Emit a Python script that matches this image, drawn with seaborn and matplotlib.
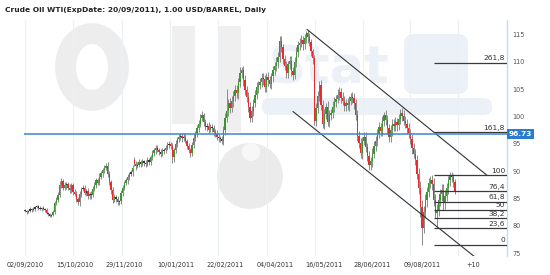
import matplotlib
matplotlib.use("Agg")
import matplotlib.pyplot as plt
import matplotlib.transforms as mtransforms
from matplotlib.patches import Ellipse, Rectangle, Circle, FancyBboxPatch
import numpy as np
import pandas as pd
import seaborn as sns

# ---------------- data ----------------
closes = [
    82.7, 82.5, 82.8, 83.1, 82.9, 83.1, 83.4, 83.6, 83.3, 83.1, 83.3, 83.1, 82.9, 82.4, 82.1, 81.9, 82.0, 82.5, 84.1, 84.8,
    85.6, 87.5, 88.2, 87.0, 87.4, 87.6, 87.0, 86.5, 87.4, 86.2, 85.8, 84.9, 84.3, 85.8, 86.7, 86.9, 86.1, 86.4, 85.4, 85.9,
    85.6, 86.8, 87.5, 88.3, 87.9, 89.0, 89.6, 90.2, 90.6, 91.0, 89.5, 88.0, 86.5, 84.7, 85.3, 85.0, 84.3, 84.5, 86.0, 87.0,
    87.8, 88.3, 88.9, 89.5, 89.8, 90.6, 91.4, 90.9, 91.2, 91.6, 91.3, 91.8, 91.5, 91.4, 92.0, 91.7, 92.5, 93.3, 93.8, 94.2,
    93.9, 93.5, 93.2, 93.7, 93.9, 94.3, 94.8, 95.0, 94.6, 92.5, 93.8, 95.0, 95.8, 96.2, 96.5, 96.0, 96.3, 95.5, 94.6, 93.8,
    93.3, 94.8, 96.0, 96.9, 97.8, 98.6, 99.8, 100.2, 99.0, 98.0, 98.3, 97.6, 98.1, 97.8, 97.2, 96.8, 96.3, 96.0, 95.8, 95.6,
    97.5, 99.8, 101.0, 102.4, 101.6, 102.8, 103.8, 104.8, 104.2, 106.2, 107.9, 108.5, 106.6, 104.8, 103.5, 101.8, 99.8, 101.0, 102.5, 104.0,
    105.3, 105.8, 106.2, 107.0, 106.8, 105.3, 107.2, 106.6, 106.0, 107.3, 108.4, 109.2, 109.9, 110.8, 113.8, 112.6, 110.5, 109.2, 108.0, 109.5,
    110.2, 108.3, 107.6, 110.0, 111.8, 113.0, 113.5, 113.9, 113.2, 114.3, 115.2, 114.5, 113.6, 112.0, 110.6, 99.2, 101.5, 103.8, 105.7, 102.0,
    98.7, 100.5, 101.7, 99.0, 100.2, 100.6, 101.8, 102.6, 103.2, 104.0, 104.4, 103.4, 102.8, 101.9, 102.4, 102.0, 102.9, 103.5, 103.3, 102.4,
    100.2, 96.5, 95.1, 93.3, 95.5, 96.2, 94.4, 92.8, 91.1, 91.8, 93.2, 94.6, 95.6, 96.8, 98.0, 97.4, 99.1, 100.2, 99.3, 97.8,
    96.2, 97.5, 98.7, 98.2, 98.9, 98.4, 99.6, 100.6, 100.1, 99.2, 98.7, 97.8, 96.9, 95.8, 94.2, 93.2, 92.0, 89.5, 87.0, 83.4,
    79.7, 82.5, 84.7, 86.2, 87.8, 88.3, 87.6, 84.7, 82.3, 83.0, 84.7, 85.8, 86.5, 84.1, 85.5, 86.9, 88.4, 89.2, 89.0, 88.0,
    86.2,
]
opens = [
    82.9, 82.7, 82.5, 82.8, 83.1, 82.9, 83.1, 83.4, 83.6, 83.3, 83.1, 83.3, 83.1, 82.9, 82.4, 82.1, 81.9, 82.0, 82.5, 84.1,
    84.8, 85.6, 87.5, 88.2, 87.0, 87.4, 87.6, 87.0, 86.5, 87.4, 86.2, 85.8, 84.9, 84.3, 85.8, 86.7, 86.9, 86.1, 86.4, 85.4,
    85.9, 85.6, 86.8, 87.5, 88.3, 87.9, 89.0, 89.6, 90.2, 90.6, 91.0, 89.5, 88.0, 86.5, 84.7, 85.3, 85.0, 84.3, 84.5, 86.0,
    87.0, 87.8, 88.3, 88.9, 89.5, 89.8, 92.0, 91.4, 90.9, 91.2, 91.6, 91.3, 91.8, 91.5, 91.4, 92.0, 91.7, 92.5, 93.3, 93.8,
    94.2, 93.9, 93.5, 93.2, 93.7, 93.9, 94.3, 94.8, 95.0, 94.6, 92.5, 93.8, 95.0, 95.8, 96.2, 96.5, 96.0, 96.3, 95.5, 94.6,
    93.8, 93.3, 94.8, 96.0, 96.9, 97.8, 98.6, 99.8, 100.2, 99.0, 98.0, 98.3, 97.6, 98.1, 97.8, 97.2, 96.8, 96.3, 96.0, 95.8,
    95.6, 97.5, 99.8, 101.0, 102.4, 101.6, 102.8, 103.8, 104.8, 104.2, 106.2, 107.9, 108.5, 106.6, 104.8, 103.5, 101.8, 99.8, 101.0, 102.5,
    104.0, 105.3, 105.8, 106.2, 107.0, 106.8, 105.3, 107.2, 106.6, 106.0, 107.3, 108.4, 109.2, 109.9, 110.8, 113.8, 112.6, 110.5, 109.2, 108.0,
    109.5, 110.2, 108.3, 107.6, 110.0, 111.8, 113.0, 113.5, 113.9, 113.2, 114.3, 115.2, 114.5, 113.6, 112.0, 110.6, 99.2, 101.5, 103.8, 105.7,
    102.0, 98.7, 100.5, 101.7, 99.0, 100.2, 100.6, 101.8, 102.6, 103.2, 104.0, 104.4, 103.4, 102.8, 101.9, 102.4, 102.0, 102.9, 103.5, 103.3,
    102.4, 100.2, 96.5, 95.1, 93.3, 95.5, 96.2, 94.4, 92.8, 91.1, 91.8, 93.2, 94.6, 95.6, 96.8, 98.0, 97.4, 99.1, 100.2, 99.3,
    97.8, 96.2, 97.5, 98.7, 98.2, 98.9, 98.4, 99.6, 100.6, 100.1, 99.2, 98.7, 97.8, 96.9, 95.8, 94.2, 93.2, 92.0, 89.5, 87.0,
    83.4, 79.7, 82.5, 84.7, 86.2, 87.8, 88.3, 87.6, 84.7, 82.3, 83.0, 84.7, 85.8, 86.5, 84.1, 85.5, 86.9, 88.4, 89.2, 89.0,
    88.0,
]
wick_up = [
    0.2, 0.3, 0.2, 0.3, 0.2, 0.3, 0.2, 0.3, 0.2, 0.3, 0.2, 0.3, 0.2, 0.3, 0.2, 0.3, 0.2, 0.4, 0.5, 0.4,
    0.6, 0.7, 0.5, 0.4, 0.6, 0.5, 0.4, 0.6, 0.5, 0.4, 0.5, 0.6, 0.3, 0.5, 0.4, 0.6, 0.5, 0.4, 0.5, 0.3,
    0.4, 0.5, 0.6, 0.4, 0.5, 0.6, 0.5, 0.4, 0.6, 0.5, 0.7, 0.5, 0.4, 0.6, 0.5, 0.4, 0.5, 0.3, 0.6, 0.5,
    0.4, 0.5, 0.6, 0.4, 0.5, 0.6, 0.5, 0.4, 0.5, 0.6, 0.4, 0.5, 0.3, 0.5, 0.6, 0.4, 0.5, 0.6, 0.4, 0.5,
    0.6, 0.4, 0.5, 0.6, 0.4, 0.5, 0.6, 0.5, 0.4, 0.6, 0.5, 0.7, 0.5, 0.6, 0.4, 0.5, 0.6, 0.5, 0.4, 0.6,
    0.5, 0.6, 0.7, 0.5, 0.6, 0.8, 0.6, 0.7, 0.5, 0.6, 0.5, 0.7, 0.6, 0.5, 0.6, 0.5, 0.7, 0.6, 0.5, 0.6,
    0.8, 0.9, 4.0, 0.8, 1.0, 0.9, 0.8, 1.0, 0.9, 0.8, 1.1, 0.5, 0.8, 0.9, 0.7, 1.0, 0.8, 0.9, 0.7, 0.8,
    0.9, 0.7, 0.8, 0.9, 1.0, 0.8, 0.7, 0.9, 0.8, 0.7, 0.9, 0.8, 0.9, 1.0, 0.8, 0.9, 0.7, 0.8, 0.9, 0.7,
    0.8, 0.9, 0.7, 0.8, 0.9, 0.7, 0.8, 0.9, 0.8, 0.7, 0.4, 0.6, 0.7, 0.5, 0.4, 0.6, 1.0, 0.9, 0.8, 0.9,
    1.0, 0.9, 0.8, 1.1, 0.9, 0.8, 1.0, 0.9, 0.8, 1.0, 0.9, 0.8, 1.0, 0.9, 0.8, 1.0, 0.9, 0.8, 1.0, 0.9,
    0.8, 1.0, 0.9, 1.0, 0.8, 0.9, 1.0, 0.8, 0.9, 0.8, 1.0, 0.9, 0.8, 0.9, 1.0, 0.8, 0.9, 0.6, 1.0, 0.9,
    0.8, 1.0, 0.9, 0.8, 1.0, 0.9, 0.8, 0.7, 0.9, 1.0, 0.8, 0.9, 1.0, 0.8, 0.9, 1.0, 0.8, 0.9, 1.0, 1.2,
    1.3, 1.2, 1.1, 1.0, 0.9, 0.8, 1.0, 1.1, 1.2, 1.0, 0.9, 1.0, 1.1, 1.2, 1.0, 0.9, 0.8, 0.6, 0.6, 0.5,
    0.6,
]
wick_dn = [
    0.2, 0.3, 0.2, 0.2, 0.3, 0.2, 0.3, 0.2, 0.3, 0.2, 0.3, 0.2, 0.3, 0.2, 0.3, 0.2, 0.3, 0.2, 0.4, 0.3,
    0.5, 0.4, 0.6, 0.5, 0.4, 0.6, 0.5, 0.4, 0.5, 0.6, 0.4, 0.5, 0.4, 0.6, 0.5, 0.4, 0.5, 0.6, 0.4, 0.5,
    0.6, 0.4, 0.5, 0.6, 0.4, 0.5, 0.4, 0.6, 0.5, 0.4, 0.6, 0.5, 0.7, 0.5, 0.4, 0.6, 0.5, 0.4, 0.5, 0.6,
    0.5, 0.4, 0.6, 0.5, 0.4, 0.6, 0.5, 0.6, 0.4, 0.5, 0.6, 0.4, 0.5, 0.6, 0.4, 0.5, 0.6, 0.4, 0.5, 0.6,
    0.4, 0.5, 0.6, 0.4, 0.5, 0.6, 0.4, 0.5, 0.6, 1.0, 0.8, 0.5, 0.6, 0.4, 0.5, 0.6, 0.5, 0.4, 0.6, 0.5,
    0.7, 0.5, 0.6, 0.5, 0.7, 0.6, 0.5, 0.6, 0.7, 0.5, 0.6, 0.7, 0.5, 0.6, 0.7, 0.5, 0.6, 0.7, 0.5, 0.6,
    0.8, 0.9, 0.8, 1.0, 0.9, 0.8, 1.0, 0.9, 0.8, 1.0, 0.8, 0.9, 1.0, 0.8, 0.9, 1.0, 0.8, 0.9, 1.0, 0.8,
    0.9, 1.0, 0.8, 0.9, 1.0, 0.8, 0.9, 1.0, 0.8, 0.9, 1.0, 0.8, 0.9, 1.0, 0.8, 0.9, 1.0, 0.8, 0.9, 1.0,
    0.8, 0.9, 1.0, 0.8, 0.9, 1.0, 0.8, 0.9, 1.0, 0.8, 0.9, 1.0, 0.8, 0.9, 1.0, 0.8, 1.0, 0.9, 1.0, 0.9,
    0.8, 1.0, 0.9, 0.8, 1.0, 0.9, 0.8, 1.0, 0.9, 0.8, 1.0, 0.9, 0.8, 1.0, 0.9, 0.8, 1.0, 0.9, 0.8, 1.0,
    0.9, 1.0, 0.8, 0.9, 1.0, 0.8, 0.9, 1.0, 0.8, 0.9, 1.0, 0.8, 0.9, 1.0, 0.8, 0.9, 1.0, 0.8, 0.9, 1.0,
    0.8, 0.9, 1.0, 0.8, 0.9, 1.0, 0.8, 0.9, 1.0, 0.8, 0.9, 1.0, 0.8, 0.9, 1.0, 0.8, 0.9, 1.0, 1.2, 1.8,
    3.2, 1.0, 1.1, 1.2, 1.0, 0.9, 1.0, 1.1, 0.9, 2.5, 1.1, 1.0, 1.2, 1.1, 1.0, 0.9, 1.0, 1.1, 1.0, 0.9,
    0.4,
]

xtick_days = [0, 30, 60, 91, 121, 151, 181, 210, 240, 271]
xtick_labels = ["02/09/2010", "15/10/2010", "29/11/2010", "10/01/2011", "22/02/2011",
                "04/04/2011", "16/05/2011", "28/06/2011", "09/08/2011", "+10"]
grid_days = [0, 29.0, 58.6, 87.6, 116.7, 146.3, 175.3, 204.4, 232.8, 261.8]
yticks = [75, 80, 85, 90, 95, 100, 105, 110, 115]

fib_ratios = [0, 23.6, 38.2, 50, 61.8, 76.4, 100, 161.8, 261.8]
fib_labels = ["0", "23,6", "38,2", "50", "61,8", "76,4", "100", "161,8", "261,8"]
fib_low = 76.6
fib_high = 89.3
fib_start_day = 247.3

blue_level = 96.73

channel_upper_days = [170.5, 279.3]
channel_upper_prices = [115.9, 89.25]
channel_lower_days = [162.0, 271.5]
channel_lower_prices = [100.9, 74.45]

title = "Crude Oil WTI(ExpDate: 20/09/2011), 1.00 USD/BARREL, Daily"

# ---------------- figure ----------------
sns.set_theme(style="white")
plt.rcParams["font.family"] = ["DejaVu Sans"]

W, H = 550, 275
fig = plt.figure(figsize=(5.5, 2.75), dpi=100)
fig.patch.set_facecolor("white")

# background watermark in pixel coordinates
bg = fig.add_axes([0, 0, 1, 1], zorder=0)
bg.set_xlim(0, W)
bg.set_ylim(H, 0)
bg.axis("off")
wm_grey = "#efefef"
wm_blue = "#ebf1f7"
bg.add_patch(Ellipse((92, 67), 53, 67, fill=False, lw=15, ec="#ededed"))
bg.add_patch(Rectangle((172, 26), 23, 98, fc=wm_grey, ec="none"))
bg.add_patch(Rectangle((218, 26), 23, 106, fc=wm_grey, ec="none"))
bg.add_patch(Circle((250, 176), 33, fc="#ebebeb", ec="none"))
bg.add_patch(Circle((251, 152), 9, fc="#f7f7f7", ec="none"))
bg.text(268, 84, "Stat", fontsize=37, fontweight="bold", color=wm_blue, va="baseline", ha="left")
bg.add_patch(FancyBboxPatch((404, 34), 64, 60, boxstyle="round,pad=0,rounding_size=10", fc=wm_blue, ec="none"))
bg.add_patch(FancyBboxPatch((262, 98), 230, 17, boxstyle="round,pad=0,rounding_size=8", fc=wm_blue, ec="none"))

# title
fig.text(5 / W, 1 - 10 / H, title, fontsize=5.4, fontweight="bold", color="#222222", ha="left", va="center")

# main axes
left_px, right_px, top_px, bot_px = 24, 507, 20, 256
ax = fig.add_axes([left_px / W, 1 - bot_px / H, (right_px - left_px) / W, (bot_px - top_px) / H], zorder=1)
ax.set_facecolor("none")

df = pd.DataFrame({"day": np.arange(len(closes)), "open": opens, "close": closes,
                   "up": wick_up, "dn": wick_dn})
df["top"] = df[["open", "close"]].max(axis=1)
df["bot"] = df[["open", "close"]].min(axis=1)
df["high"] = df["top"] + df["up"]
df["low"] = df["bot"] - df["dn"]

def candle_color(o, c):
    if abs(c - o) < 0.35:
        return "#333333"
    return "#3a952f" if c > o else "#e62c2c"

colors = [candle_color(o, c) for o, c in zip(df["open"], df["close"])]

for g in grid_days:
    ax.axvline(g, color="#eaf0f6", lw=0.8, zorder=0)

ax.vlines(df["day"], df["low"], df["high"], color="#8a8a8a", lw=0.7, zorder=2)
heights = np.maximum(df["top"] - df["bot"], 0.18)
ax.bar(df["day"], heights, bottom=df["bot"], width=0.8, color=colors, linewidth=0, zorder=3)

# channel lines
ax.plot(channel_upper_days, channel_upper_prices, color="#333333", lw=0.8, zorder=4)
ax.plot(channel_lower_days, channel_lower_prices, color="#333333", lw=0.8, zorder=4)

# blue level line
ax.axhline(blue_level, color="#3b86d1", lw=1.1, zorder=5)
trans = mtransforms.blended_transform_factory(ax.transAxes, ax.transData)
ax.text(1.004, blue_level, "96.73", transform=trans, ha="left", va="center", fontsize=5.3,
        color="white", fontweight="bold",
        bbox=dict(boxstyle="square,pad=0.28", fc="#2b7bd0", ec="none"), zorder=6, clip_on=False)

# fibonacci levels
xmax_day = (right_px - 25) / 1.654
for r, lab in zip(fib_ratios, fib_labels):
    lvl = fib_low + r / 100.0 * (fib_high - fib_low)
    ax.plot([fib_start_day, xmax_day], [lvl, lvl], color="#3a3a3a", lw=0.9, zorder=4, solid_capstyle="butt")
    ax.text(xmax_day - 1.2, lvl + 0.25, lab, ha="right", va="bottom", fontsize=5.4, color="#333333", zorder=6)

ax.set_xlim((left_px - 25) / 1.654, xmax_day)
ax.set_ylim(75 - (bot_px - 253.3) / 5.475, 115 + (34.3 - top_px) / 5.475)

ax.yaxis.tick_right()
ax.set_yticks(yticks)
ax.set_yticklabels([str(v) for v in yticks])
ax.set_xticks(xtick_days)
ax.set_xticklabels(xtick_labels)
ax.tick_params(axis="y", length=0, pad=4, labelsize=4.7, labelcolor="#555555")
ax.tick_params(axis="x", length=0, pad=4, labelsize=4.7, labelcolor="#333333")
for s in ["top", "left", "bottom"]:
    ax.spines[s].set_visible(False)
ax.spines["right"].set_color("#c6dbeb")
ax.spines["right"].set_linewidth(1.0)
ax.grid(False)

fig.savefig("out.png", dpi=100, facecolor="white")
